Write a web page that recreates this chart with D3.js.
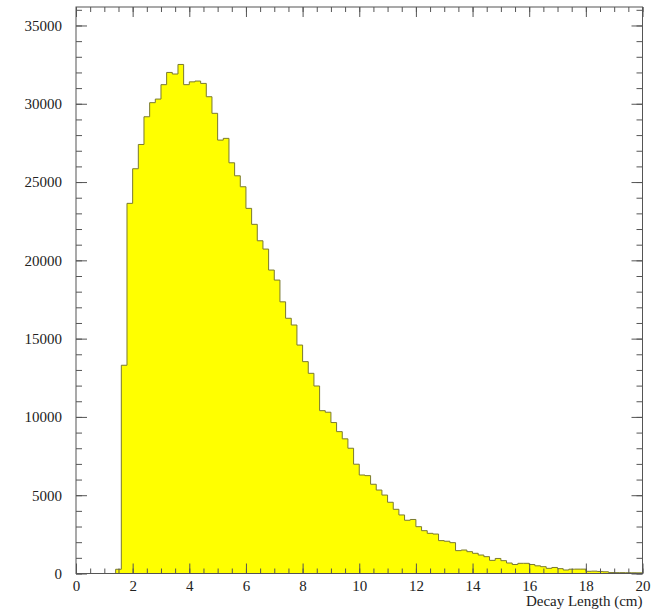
<!DOCTYPE html>
<meta charset="utf-8">
<style>

body { margin: 0; background: #fff; }
text { font-family: "Liberation Serif", "DejaVu Serif", serif; font-size: 15px; fill: #222; }
.tick line { stroke: #555; }
.frame { fill: none; stroke: #555; stroke-width: 1px; }
.hist { fill: #ffff00; }
.outline { fill: none; stroke: #7a7a30; stroke-width: 1px; }

</style>
<svg width="658" height="614"></svg>
<script src="https://cdn.jsdelivr.net/npm/d3@7"></script>
<script>

// histogram bin contents, 100 bins of 0.2 cm from 0 to 20
var counts = [
  0, 0, 0, 0, 0, 0, 0, 270, 13300, 23640,
  25850, 27400, 29170, 30070, 30300, 31220, 32000, 31900, 32510, 31220,
  31400, 31450, 31300, 30450, 29390, 27680, 27790, 26230, 25400, 24700,
  23320, 22300, 21250, 20720, 19380, 18740, 17350, 16300, 15870, 14590,
  13530, 12785, 11975, 10400, 10300, 9640, 9060, 8600, 8000, 6980,
  6290, 6250, 5700, 5330, 5010, 4550, 4100, 3740, 3400, 3450,
  2990, 2735, 2565, 2520, 2100, 2060, 1970, 1460, 1500, 1395,
  1290, 1180, 1075, 840, 960, 820, 670, 575, 650, 650,
  575, 490, 436, 330, 385, 310, 224, 275, 280, 280,
  140, 150, 130, 110, 60, 55, 55, 50, 45, 40
];
var binWidth = 0.2;
var xMajor = d3.range(0, 21, 2);
var xMinor = d3.range(0, 20.01, 0.5);
var yMajor = d3.range(0, 35001, 5000);
var yMinor = d3.range(0, 36001, 1000);
var xTitle = "Decay Length (cm)";

var svg = d3.select("svg"),
    padL = 76, padR = 642.5, padT = 7, padB = 573.5;

var x = d3.scaleLinear().domain([0, 20]).range([padL, padR]);
var y = d3.scaleLinear().domain([0, 36180]).range([padB, padT]);

var pts = counts.map(function(c, i) { return [i * binWidth, c]; });
pts.push([20, counts[counts.length - 1]]);

svg.append("path")
    .datum(pts)
    .attr("class", "hist")
    .attr("d", d3.area()
        .curve(d3.curveStepAfter)
        .x(function(d) { return x(d[0]); })
        .y0(y(0))
        .y1(function(d) { return y(d[1]); }));

svg.append("path")
    .datum(pts)
    .attr("class", "outline")
    .attr("d", d3.line()
        .curve(d3.curveStepAfter)
        .x(function(d) { return x(d[0]); })
        .y(function(d) { return y(d[1]); }));

function addAxis(axis, tx, ty) {
  var g = svg.append("g")
      .attr("transform", "translate(" + tx + "," + ty + ")")
      .call(axis);
  g.select(".domain").remove();
  return g;
}

// bottom
addAxis(d3.axisBottom(x).tickValues(xMinor).tickSize(-5).tickFormat(""), 0, padB);
addAxis(d3.axisBottom(x).tickValues(xMajor).tickSize(-10).tickPadding(7).tickFormat(d3.format("d")), 0, padB);
// top
addAxis(d3.axisTop(x).tickValues(xMinor).tickSize(-5).tickFormat(""), 0, padT);
addAxis(d3.axisTop(x).tickValues(xMajor).tickSize(-10).tickFormat(""), 0, padT);
// left
addAxis(d3.axisLeft(y).tickValues(yMinor).tickSize(-6).tickFormat(""), padL, 0);
addAxis(d3.axisLeft(y).tickValues(yMajor).tickSize(-11).tickPadding(14).tickFormat(d3.format("d")), padL, 0);
// right
addAxis(d3.axisRight(y).tickValues(yMinor).tickSize(-6).tickFormat(""), padR, 0);
addAxis(d3.axisRight(y).tickValues(yMajor).tickSize(-11).tickFormat(""), padR, 0);

svg.selectAll(".tick text")
    .attr("fill", "#222")
    .style("font-family", "'Liberation Serif', serif")
    .style("font-size", "15px");

svg.append("rect")
    .attr("class", "frame")
    .attr("x", padL)
    .attr("y", padT)
    .attr("width", padR - padL)
    .attr("height", padB - padT);

svg.append("text")
    .attr("x", padR)
    .attr("y", 606)
    .attr("text-anchor", "end")
    .text(xTitle);

</script>
